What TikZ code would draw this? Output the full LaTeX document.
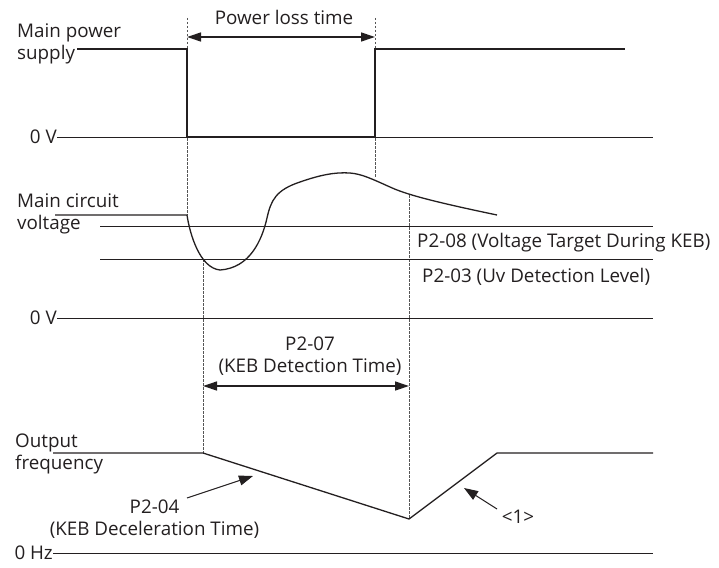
\documentclass[tikz,border=0pt]{standalone}
\usepackage{fontspec}
\setmainfont{Open Sans}
\usetikzlibrary{arrows.meta}
\definecolor{ink}{HTML}{231F20}
\definecolor{guideink}{HTML}{555555}

\begin{document}
\begin{tikzpicture}[x=1pt,y=-1pt,
  lbl/.style={inner sep=0pt,text=ink,font=\fontsize{18.8}{22}\selectfont},
  sig/.style={draw=ink,line width=1.3pt,line join=miter},
  lvl/.style={draw=ink,line width=0.8pt},
  guide/.style={draw=guideink,line width=0.5pt,dash pattern=on 2.5pt off 1.5pt},
  span/.style={draw=ink,line width=1.3pt,{Triangle[length=14pt,width=9pt]}-{Triangle[length=14pt,width=9pt]}},
  callout/.style={draw=ink,line width=1pt,-{Triangle[length=14pt,width=10pt]}}]
\useasboundingbox (0,0) rectangle (719,567);

% labels
\node[lbl,anchor=west,align=left] (mainps) at (17,44) {Main power\\supply};
\node[lbl,anchor=east] (zeroa) at (57,137) {0 V};
\node[lbl] (losstime) at (284,17) {Power loss time};
\node[lbl,anchor=west,align=left] (maincv) at (17,214) {Main circuit\\voltage};
\node[lbl,anchor=west] (keblvl) at (417,243) {P2-08 (Voltage Target During KEB)};
\node[lbl,anchor=west] (uvlvl) at (422,277) {P2-03 (Uv Detection Level)};
\node[lbl,anchor=east] (zerob) at (57,318) {0 V};
\node[lbl,align=center] (kebdet) at (310,356) {P2-07\\(KEB Detection Time)};
\node[lbl,anchor=west,align=left] (outf) at (15,454) {Output\\frequency};
\node[lbl,align=center] (kebdec) at (154.5,519) {P2-04\\(KEB Deceleration Time)};
\node[lbl] (ramp) at (518,517) {<1>};
\node[lbl,anchor=east] (zeroc) at (53,553) {0 Hz};

% time marks
\coordinate (tlossA) at (187,18);
\coordinate (tlossB) at (375,18);
\coordinate (tuv) at (203,259);
\coordinate (tdet) at (409,195);

% guide lines
\draw[guide] (tlossA) -- (187,215);
\draw[guide] (tlossB) -- (375,178);
\draw[guide] (tuv) -- (203,453);
\draw[guide] (tdet) -- (409,519);

% main power supply
\draw[lvl] (zeroa.east) -- (653,137);
\draw[sig] (77,49) -- (187,49) -- (187,137) -- (375,137) -- (375,49) -- (625,49);
\draw[span] (187,37) -- (375,37);

% main circuit voltage
\draw[lvl] (100,226) -- (653,226);
\draw[lvl] (100,259) -- (653,259);
\draw[lvl] (zerob.east) -- (653,318);
\draw[sig] (55,215) -- (187,215)
  .. controls (190,235) and (200,268) .. (220,270)
  .. controls (250,268) and (262,240) .. (267,218)
  .. controls (271,200) and (276,190) .. (300,182)
  .. controls (320,175) and (335,172) .. (350,173)
  .. controls (362,174) and (372,179) .. (390,187)
  .. controls (405,194) and (430,201) .. (497,215);
\draw[span] (203,386) -- (409,386);

% output frequency
\draw[lvl] (zeroc.east) -- (653,553);
\draw[sig] (53,453) -- (203,453) -- (409,519) -- (497,453) -- (653,453);
\coordinate (decTail) at (187,498);
\coordinate (decTip) at (253,476);
\coordinate (accTail) at (497,509);
\coordinate (accTip) at (464,488);
\draw[callout] (decTail) -- (decTip);
\draw[callout] (accTail) -- (accTip);
\end{tikzpicture}
\end{document}
